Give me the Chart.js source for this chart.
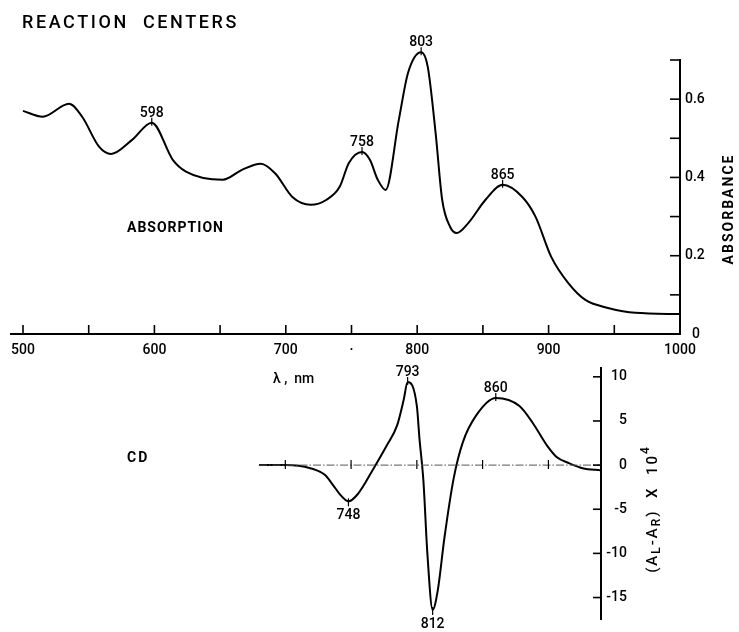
<!DOCTYPE html>
<html>
<head>
<meta charset="utf-8">
<script src="https://cdn.jsdelivr.net/npm/chart.js@4"></script>
<style>
body { margin: 0; background: #fff; }
#wrap { position: relative; width: 739px; height: 632px; }
canvas { position: absolute; left: 0; top: 0; }
</style>
</head>
<body>
<div id="wrap">
  <canvas id="absChart" width="739" height="632"></canvas>
  <canvas id="cdChart" width="739" height="632"></canvas>
</div>
<script>
// absorption spectrum
const absNm  = [500, 515, 535, 545, 558, 567, 583, 598, 614, 624, 652, 667, 681, 692, 705, 719, 731, 741, 748, 758, 764, 770, 776, 786, 793, 803, 808, 814, 819, 825, 830, 839, 852, 865, 880, 890, 902, 915, 928, 946, 966, 1000];
const absVal = [0.57, 0.555, 0.588, 0.555, 0.478, 0.46, 0.496, 0.54, 0.445, 0.415, 0.394, 0.42, 0.435, 0.41, 0.35, 0.33, 0.343, 0.376, 0.437, 0.465, 0.445, 0.394, 0.368, 0.547, 0.667, 0.72, 0.683, 0.514, 0.343, 0.274, 0.258, 0.284, 0.343, 0.381, 0.35, 0.30, 0.197, 0.13, 0.087, 0.066, 0.054, 0.051];
const absTicksX = [500, 550, 600, 650, 700, 750, 800, 850, 900, 950, 1000];
const absTickLabelsX = ['500', '', '600', '', '700', '·', '800', '', '900', '', '1000'];
const absTicksY = [0, 0.1, 0.2, 0.3, 0.4, 0.5, 0.6, 0.7];
const absTickLabelsY = ['  0', '', '0.2', '', '0.4', '', '0.6', ''];
const absPeakNm  = [598, 758, 803, 865];
const absPeakVal = [0.54, 0.465, 0.72, 0.381];

// circular dichroism
const cdNm  = [680, 700, 719, 730, 736, 742, 748, 755, 767, 777, 785, 790, 793, 800, 802, 805, 808, 812, 816, 821, 828, 835, 845, 860, 878, 888, 899, 906, 916, 926, 940];
const cdVal = [0, 0, -0.35, -1.1, -2.2, -3.4, -4.1, -3.3, -0.4, 2.2, 4.5, 7.4, 9.4, 6.7, 3.0, -1.8, -10.0, -16.4, -14.1, -8.2, -1.5, 2.6, 5.6, 7.6, 6.7, 4.8, 2.2, 0.95, 0.2, -0.35, -0.6];
const cdTicksY = [10, 5, 0, -5, -10, -15];
const cdZeroTicks = [700, 750, 800, 850, 900];
const cdPeakNm  = [748, 793, 812, 860];
const cdPeakVal = [-4.1, 9.4, -16.4, 7.6];
const cdPeakUp  = [false, true, false, true];

const FONT = 'Roboto, "Liberation Sans", sans-serif';

function drawPeaks(chart, nms, vals, up) {
    const { ctx, scales: { x, y } } = chart;
    ctx.save();
    ctx.strokeStyle = '#000';
    ctx.fillStyle = '#000';
    ctx.lineWidth = 1.2;
    ctx.font = '500 14px ' + FONT;
    ctx.textAlign = 'center';
    ctx.textBaseline = 'alphabetic';
    nms.forEach((nm, i) => {
        const px = x.getPixelForValue(nm);
        const py = y.getPixelForValue(vals[i]);
        const d = up[i] ? -1 : 1;
        ctx.beginPath();
        ctx.moveTo(px, py - d * 3);
        ctx.lineTo(px, py + d * 5);
        ctx.stroke();
        ctx.fillText(String(nm), px, up[i] ? py - 6 : py + 18);
    });
    ctx.restore();
}

const absDecor = {
    id: 'absDecor',
    afterDraw(chart) {
        const { ctx, chartArea: a, scales: { x, y } } = chart;
        ctx.save();
        ctx.strokeStyle = '#000';
        ctx.lineWidth = 2;
        // x axis line, runs a little past 500
        ctx.beginPath();
        ctx.moveTo(a.left - 13, a.bottom);
        ctx.lineTo(a.right, a.bottom);
        ctx.stroke();
        ctx.lineWidth = 1.6;
        absTicksX.forEach(v => {
            const px = x.getPixelForValue(v);
            ctx.beginPath();
            ctx.moveTo(px, a.bottom);
            ctx.lineTo(px, a.bottom - 9);
            ctx.stroke();
        });
        absTicksY.forEach(v => {
            const py = y.getPixelForValue(v);
            ctx.beginPath();
            ctx.moveTo(a.right, py);
            ctx.lineTo(a.right - 10, py);
            ctx.stroke();
        });
        ctx.restore();

        drawPeaks(chart, absPeakNm, absPeakVal, [true, true, true, true]);

        ctx.save();
        ctx.fillStyle = '#000';
        ctx.textBaseline = 'alphabetic';
        ctx.font = '500 18px ' + FONT;
        ctx.letterSpacing = '2.6px';
        ctx.fillText('REACTION  CENTERS', 22, 28);
        ctx.font = 'bold 14px ' + FONT;
        ctx.letterSpacing = '1px';
        ctx.fillText('ABSORPTION', 127, 232);
        ctx.letterSpacing = '0px';
        ctx.font = '500 14px ' + FONT;
        ctx.fillText('λ ,  nm', 273, 383);
        ctx.translate(733, 209);
        ctx.rotate(-Math.PI / 2);
        ctx.font = 'bold 14px ' + FONT;
        ctx.letterSpacing = '2px';
        ctx.textAlign = 'center';
        ctx.fillText('ABSORBANCE', 0, 0);
        ctx.restore();
    }
};

const cdDecor = {
    id: 'cdDecor',
    afterDraw(chart) {
        const { ctx, chartArea: a, scales: { x, y } } = chart;
        const y0 = y.getPixelForValue(0);
        ctx.save();
        ctx.strokeStyle = '#555';
        ctx.lineWidth = 1;
        ctx.setLineDash([8, 2, 1.5, 2]);
        ctx.beginPath();
        ctx.moveTo(a.left, y0);
        ctx.lineTo(a.right, y0);
        ctx.stroke();
        ctx.setLineDash([]);
        ctx.strokeStyle = '#000';
        ctx.lineWidth = 1.2;
        cdZeroTicks.forEach(v => {
            const px = x.getPixelForValue(v);
            ctx.beginPath();
            ctx.moveTo(px, y0 - 5);
            ctx.lineTo(px, y0 + 4);
            ctx.stroke();
        });
        ctx.lineWidth = 1.6;
        cdTicksY.forEach(v => {
            const py = y.getPixelForValue(v);
            ctx.beginPath();
            ctx.moveTo(a.right, py);
            ctx.lineTo(a.right - 8, py);
            ctx.stroke();
        });
        ctx.restore();

        drawPeaks(chart, cdPeakNm, cdPeakVal, cdPeakUp);

        ctx.save();
        ctx.fillStyle = '#000';
        ctx.font = 'bold 14px ' + FONT;
        ctx.letterSpacing = '2px';
        ctx.fillText('CD', 127, 462);
        // rotated axis title with sub/superscripts
        const parts = [
            ['(A', 15, 0], ['L', 12, 3], ['-A', 15, 0], ['R', 12, 3], [')  X  10', 15, 0], ['4', 12, -8]
        ];
        let total = 0;
        parts.forEach(p => { ctx.font = '500 ' + p[1] + 'px ' + FONT; total += ctx.measureText(p[0]).width; });
        ctx.translate(657, 509);
        ctx.rotate(-Math.PI / 2);
        let cx = -total / 2;
        parts.forEach(p => {
            ctx.font = '500 ' + p[1] + 'px ' + FONT;
            ctx.fillText(p[0], cx, p[2]);
            cx += ctx.measureText(p[0]).width;
        });
        ctx.restore();
    }
};

const tickFont = { family: FONT, size: 14, weight: '500' };

new Chart(document.getElementById('absChart'), {
    type: 'line',
    data: {
        datasets: [{
            data: absNm.map((nm, i) => ({ x: nm, y: absVal[i] })),
            borderColor: '#000',
            borderWidth: 2,
            pointRadius: 0,
            cubicInterpolationMode: 'monotone',
            clip: false
        }]
    },
    options: {
        responsive: false,
        animation: false,
        layout: { padding: { left: 23, top: 60, right: 0, bottom: 258 } },
        plugins: { legend: { display: false }, tooltip: { enabled: false } },
        scales: {
            x: {
                type: 'linear', min: 500, max: 1000,
                afterBuildTicks: s => { s.ticks = absTicksX.map(v => ({ value: v })); },
                afterFit: s => { s.height = 40; },
                grid: { display: false, drawTicks: false },
                border: { display: false },
                ticks: {
                    callback: (v, i) => absTickLabelsX[i],
                    font: tickFont, color: '#000', padding: 8,
                    autoSkip: false, maxRotation: 0
                }
            },
            y: {
                position: 'right', min: 0, max: 0.7,
                afterBuildTicks: s => { s.ticks = absTicksY.map(v => ({ value: v })); },
                afterFit: s => { s.width = 59; },
                grid: { display: false, drawTicks: false },
                border: { display: true, color: '#000', width: 2 },
                ticks: {
                    callback: (v, i) => absTickLabelsY[i],
                    font: tickFont, color: '#000', padding: 5
                }
            }
        }
    },
    plugins: [absDecor]
});

new Chart(document.getElementById('cdChart'), {
    type: 'line',
    data: {
        datasets: [{
            data: cdNm.map((nm, i) => ({ x: nm, y: cdVal[i] })),
            borderColor: '#000',
            borderWidth: 2,
            pointRadius: 0,
            cubicInterpolationMode: 'monotone',
            clip: false
        }]
    },
    options: {
        responsive: false,
        animation: false,
        layout: { padding: { left: 259, top: 368, right: 112, bottom: 8 } },
        plugins: { legend: { display: false }, tooltip: { enabled: false } },
        scales: {
            x: { type: 'linear', min: 680, max: 940, display: false },
            y: {
                position: 'right', min: -17.5, max: 11,
                afterBuildTicks: s => { s.ticks = cdTicksY.map(v => ({ value: v })); },
                afterFit: s => { s.width = 26; },
                grid: { display: false, drawTicks: false },
                border: { display: true, color: '#000', width: 2 },
                ticks: {
                    callback: v => String(v),
                    font: tickFont, color: '#000', padding: 4, crossAlign: 'far'
                }
            }
        }
    },
    plugins: [cdDecor]
});
</script>
</body>
</html>
